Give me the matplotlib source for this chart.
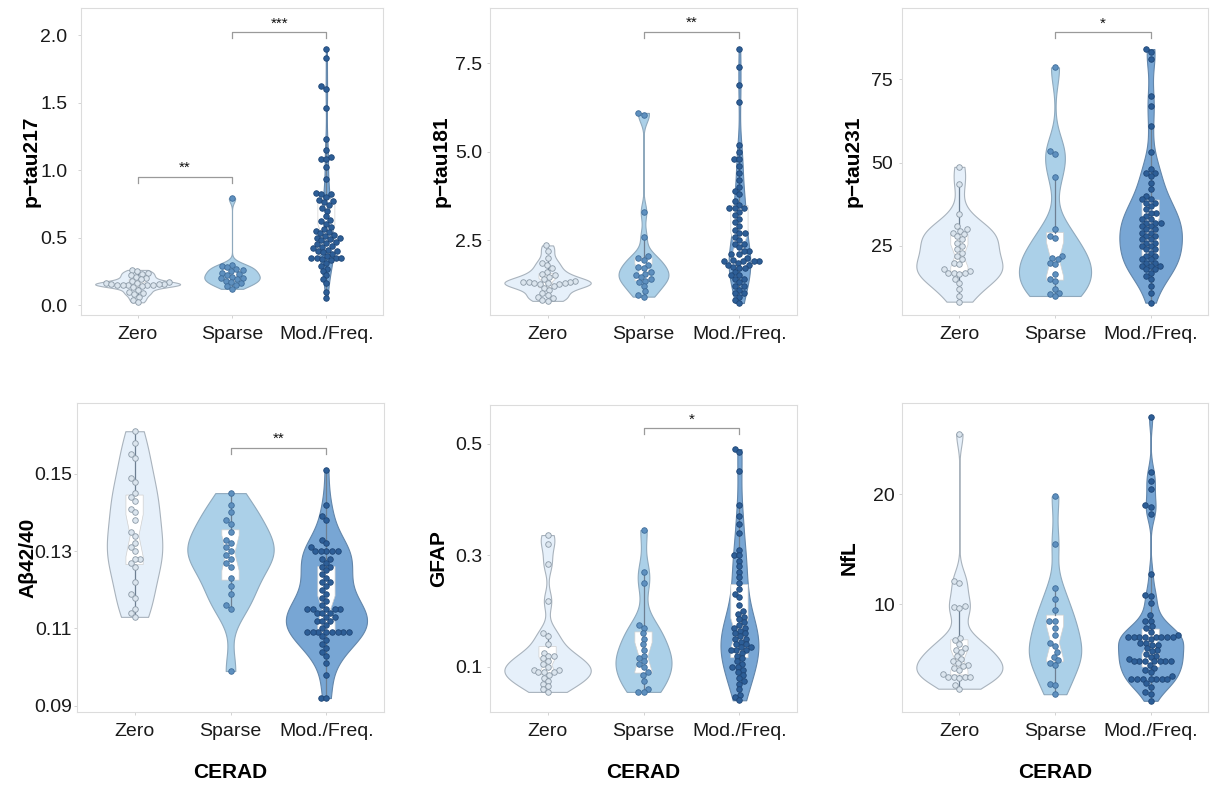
import numpy as np
import matplotlib
matplotlib.use('Agg')
import matplotlib.pyplot as plt

plt.rcParams['font.family'] = ['Liberation Sans', 'DejaVu Sans']

groups = ['Zero', 'Sparse', 'Mod./Freq.']

# ---------------- data ----------------
ptau217_zero = [0.26, 0.25, 0.24, 0.23, 0.22, 0.21, 0.20, 0.19, 0.18, 0.17, 0.16, 0.16, 0.155, 0.155, 0.155,
                0.15, 0.15, 0.15, 0.15, 0.15, 0.14, 0.13, 0.11, 0.10, 0.09, 0.08, 0.06, 0.04, 0.02]
ptau217_sparse = [0.79, 0.30, 0.29, 0.28, 0.27, 0.26, 0.25, 0.24, 0.23, 0.22, 0.21, 0.20, 0.20, 0.19, 0.18,
                  0.17, 0.16, 0.15, 0.14, 0.12]
ptau217_mod = [1.90, 1.83, 1.62, 1.60, 1.46, 1.23, 1.15, 1.10, 1.08, 1.08, 1.02, 0.93, 0.83, 0.82, 0.82, 0.80,
               0.78, 0.77, 0.76, 0.74, 0.72, 0.70, 0.66, 0.63, 0.62, 0.60, 0.58, 0.56, 0.55, 0.54, 0.53, 0.52,
               0.51, 0.50, 0.50, 0.49, 0.48, 0.47, 0.46, 0.45, 0.44, 0.43, 0.42, 0.41, 0.40, 0.40, 0.39, 0.38,
               0.36, 0.35, 0.35, 0.35, 0.35, 0.34, 0.33, 0.31, 0.29, 0.27, 0.25, 0.22, 0.19, 0.16, 0.10, 0.05]

ptau181_zero = [2.35, 2.2, 2.0, 1.85, 1.8, 1.7, 1.6, 1.55, 1.5, 1.45, 1.4, 1.35, 1.3, 1.3, 1.3, 1.28, 1.28,
                1.28, 1.25, 1.25, 1.2, 1.15, 1.1, 1.0, 0.95, 0.9, 0.85, 0.8, 0.78]
ptau181_sparse = [6.1, 6.05, 3.3, 2.6, 2.05, 2.0, 1.95, 1.8, 1.75, 1.7, 1.6, 1.55, 1.5, 1.45, 1.4, 1.35, 1.3,
                  1.2, 1.05, 0.95, 0.9]
ptau181_mod = [7.9, 7.4, 6.9, 6.4, 5.2, 5.0, 4.8, 4.8, 4.6, 4.4, 4.2, 4.0, 3.9, 3.8, 3.6, 3.5, 3.4, 3.4, 3.4,
               3.3, 3.2, 3.1, 3.0, 2.9, 2.8, 2.7, 2.7, 2.6, 2.5, 2.4, 2.4, 2.3, 2.2, 2.2, 2.1, 2.1, 2.0, 1.95,
               1.9, 1.9, 1.9, 1.9, 1.85, 1.8, 1.8, 1.75, 1.7, 1.7, 1.6, 1.5, 1.5, 1.4, 1.4, 1.3, 1.2, 1.2, 1.1,
               1.0, 1.0, 0.9, 0.8, 0.72]

ptau231_zero = [48.7, 43.5, 34.5, 31, 30, 29.5, 29, 28.5, 28, 27, 26, 25, 24, 23, 22, 21, 20, 19.5, 18, 17.5,
                17, 17, 17, 16.5, 15, 14, 12, 10, 8.3]
ptau231_sparse = [78.5, 53.4, 52.6, 45.7, 30, 28, 27.5, 22, 21.5, 21, 20, 19.5, 16.5, 15, 14.5, 12, 11, 10.5, 10]
ptau231_mod = [84, 83, 81, 70, 67, 61, 53, 48, 47, 47, 46, 44, 42, 40, 39, 39, 38, 38, 37, 36, 35, 35, 34, 33,
               33, 32, 32, 32, 31, 31, 30, 30, 29, 29, 28, 28, 27, 27, 26, 26, 25, 25, 24, 24, 23, 22, 22, 21,
               21, 20, 20, 19, 19, 19, 18, 18, 17, 16, 15, 13, 11, 8]

ab_zero = [0.161, 0.158, 0.155, 0.154, 0.149, 0.148, 0.145, 0.144, 0.143, 0.141, 0.140, 0.138, 0.135, 0.134,
           0.132, 0.131, 0.130, 0.128, 0.128, 0.127, 0.126, 0.122, 0.119, 0.118, 0.115, 0.114, 0.113]
ab_sparse = [0.145, 0.142, 0.140, 0.138, 0.137, 0.135, 0.133, 0.132, 0.131, 0.130, 0.129, 0.128, 0.127, 0.126,
             0.123, 0.121, 0.119, 0.116, 0.115, 0.099]
ab_mod = [0.151, 0.142, 0.139, 0.138, 0.133, 0.132, 0.131, 0.130, 0.130, 0.130, 0.130, 0.130, 0.128, 0.128,
          0.127, 0.126, 0.126, 0.125, 0.124, 0.123, 0.122, 0.122, 0.121, 0.120, 0.119, 0.118, 0.117, 0.116,
          0.115, 0.115, 0.115, 0.115, 0.115, 0.114, 0.114, 0.114, 0.113, 0.113, 0.112, 0.112, 0.112, 0.111,
          0.110, 0.109, 0.109, 0.109, 0.109, 0.109, 0.109, 0.109, 0.109, 0.108, 0.107, 0.106, 0.105, 0.104,
          0.103, 0.101, 0.098, 0.092, 0.092]

gfap_zero = [0.336, 0.32, 0.285, 0.218, 0.16, 0.155, 0.14, 0.125, 0.12, 0.12, 0.115, 0.11, 0.105, 0.10, 0.095,
             0.095, 0.09, 0.09, 0.09, 0.085, 0.08, 0.075, 0.07, 0.065, 0.06, 0.055]
gfap_sparse = [0.345, 0.27, 0.25, 0.175, 0.17, 0.16, 0.15, 0.14, 0.13, 0.12, 0.115, 0.11, 0.105, 0.10, 0.09,
               0.085, 0.075, 0.06, 0.055, 0.055]
gfap_mod = [0.49, 0.485, 0.45, 0.39, 0.37, 0.355, 0.34, 0.31, 0.30, 0.30, 0.29, 0.28, 0.27, 0.26, 0.25, 0.24,
            0.23, 0.225, 0.21, 0.20, 0.195, 0.19, 0.185, 0.18, 0.175, 0.17, 0.17, 0.165, 0.16, 0.16, 0.155,
            0.15, 0.15, 0.145, 0.14, 0.14, 0.135, 0.135, 0.13, 0.13, 0.13, 0.125, 0.12, 0.115, 0.11, 0.105,
            0.10, 0.10, 0.095, 0.09, 0.085, 0.08, 0.075, 0.07, 0.06, 0.05, 0.045, 0.04]

nfl_zero = [25.5, 12.1, 11.9, 9.8, 9.7, 9.6, 6.9, 6.7, 6.4, 6.0, 5.8, 5.6, 5.3, 5.0, 4.8, 4.6, 4.5, 4.4, 4.2,
            4.0, 3.6, 3.4, 3.4, 3.4, 3.4, 3.3, 2.6, 2.3]
nfl_sparse = [19.8, 15.5, 11.5, 10.5, 9.5, 8.5, 8.5, 7.8, 7.2, 6.5, 6.2, 5.6, 5.2, 4.9, 4.6, 4.5, 2.7, 2.6, 1.8]
nfl_mod = [27, 22, 21.2, 20.5, 19, 18.8, 18.2, 12.7, 10.8, 10.7, 10.1, 9, 8.5, 8.5, 8, 7.8, 7.5, 7.2, 7, 7, 7,
           7, 7, 7, 7, 7, 6.8, 6.5, 6.5, 6.3, 6.3, 6, 5.8, 5.7, 5.5, 5.3, 5.2, 5.0, 4.8, 4.8, 4.8, 4.8, 4.8,
           4.8, 4.8, 4.5, 4.2, 4.0, 3.8, 3.5, 3.2, 3.2, 3.2, 3.2, 3.2, 3.2, 3.2, 2.8, 2.5, 2.0, 1.8, 1.2]

panel_labels = ['p\u2212tau217', 'p\u2212tau181', 'p\u2212tau231', 'A\u03b242/40', 'GFAP', 'NfL']
panel_data = [
    [ptau217_zero, ptau217_sparse, ptau217_mod],
    [ptau181_zero, ptau181_sparse, ptau181_mod],
    [ptau231_zero, ptau231_sparse, ptau231_mod],
    [ab_zero, ab_sparse, ab_mod],
    [gfap_zero, gfap_sparse, gfap_mod],
    [nfl_zero, nfl_sparse, nfl_mod],
]
panel_ylim = [(-0.074, 2.2), (0.38, 9.07), (4.3, 96.3), (0.0884, 0.1683), (0.019, 0.569), (0.18, 28.3)]
panel_yticks = [
    ([0.0, 0.5, 1.0, 1.5, 2.0], ['0.0', '0.5', '1.0', '1.5', '2.0']),
    ([2.5, 5.0, 7.5], ['2.5', '5.0', '7.5']),
    ([25, 50, 75], ['25', '50', '75']),
    ([0.09, 0.11, 0.13, 0.15], ['0.09', '0.11', '0.13', '0.15']),
    ([0.1, 0.3, 0.5], ['0.1', '0.3', '0.5']),
    ([10, 20], ['10', '20']),
]
# significance brackets: (group_a, group_b, y, label)
panel_sig = [
    [(1, 2, 0.95, '**'), (2, 3, 2.02, '***')],
    [(2, 3, 8.4, '**')],
    [(2, 3, 89.0, '*')],
    [(2, 3, 0.1566, '**')],
    [(2, 3, 0.527, '*')],
    [],
]

# ---------------- styling ----------------
W, H = 1211, 785
violin_fill = ['#e6f0fa', '#abd0e8', '#78a6d4']
violin_edge = ['#a9b3bd', '#8fa9bd', '#6386aa']
pt_fill = ['#dbe5ee', '#5e90bf', '#2d5e97']
pt_edge = ['#8b99a6', '#3f6d9a', '#1f4676']
whisker_col = '#6d7f92'

# axes boxes in pixels: (left, top, right, bottom)
boxes = [(81, 8, 383, 315), (490, 8, 797, 315), (902, 8, 1208, 315),
         (77, 403, 384, 712), (490, 405, 797, 712), (902, 403, 1208, 712)]
ytick_pad = [7.6, 3.6, 4.2, 1.4, 3.0, 3.0]
ylabel_x = [-0.134, -0.129, -0.129, -0.129, -0.135, -0.142]


def kde_trim(vals, n=512):
    v = np.asarray(vals, float)
    sd = v.std(ddof=1)
    q75, q25 = np.percentile(v, [75, 25])
    lo = min(sd, (q75 - q25) / 1.34)
    if lo <= 0:
        lo = sd
    bw = 0.9 * lo * len(v) ** -0.2
    g = np.linspace(v.min(), v.max(), n)
    d = np.exp(-0.5 * ((g[:, None] - v[None, :]) / bw) ** 2).sum(1) / (len(v) * bw * np.sqrt(2 * np.pi))
    return g, d


def swarm(vals, ppx, ppy, diam):
    v = np.asarray(vals, float)
    order = np.argsort(v)
    ypx = v * ppy
    placed = []
    xs = np.zeros(len(v))
    for i in order:
        y = ypx[i]
        cands = [0.0]
        near = [(px, py) for (px, py) in placed if abs(py - y) < diam]
        for px, py in near:
            dx = np.sqrt(max(diam ** 2 - (py - y) ** 2, 0.0))
            cands += [px + dx, px - dx]
        cands = sorted(cands, key=lambda c: (abs(c), c))
        chosen = 0.0
        for c in cands:
            ok = True
            for px, py in near:
                if (px - c) ** 2 + (py - y) ** 2 < diam ** 2 - 1e-6:
                    ok = False
                    break
            if ok:
                chosen = c
                break
        placed.append((chosen, y))
        xs[i] = chosen / ppx
    return xs


fig = plt.figure(figsize=(W / 100, H / 100), dpi=100)
positions = [1, 2, 3]

for k in range(6):
    l, t, r, b = boxes[k]
    ax = fig.add_axes([l / W, 1 - b / H, (r - l) / W, (b - t) / H])
    ymin, ymax = panel_ylim[k]
    ax.set_xlim(0.4, 3.6)
    ax.set_ylim(ymin, ymax)
    ppx = (r - l) / 3.2
    ppy = (b - t) / (ymax - ymin)

    data = panel_data[k]
    kdes = [kde_trim(d) for d in data]
    maxd = max(d.max() for _, d in kdes)
    for j, (g, d) in enumerate(kdes):
        hw = 0.45 * d / maxd
        ax.fill_betweenx(g, positions[j] - hw, positions[j] + hw, facecolor=violin_fill[j],
                         edgecolor=violin_edge[j], linewidth=0.8, zorder=1)

    bp = ax.boxplot(data, positions=positions, widths=0.18, notch=True, patch_artist=True,
                    showfliers=False, showcaps=False, whis=1.5, manage_ticks=False, zorder=2)
    for patch in bp['boxes']:
        patch.set_facecolor('white')
        patch.set_edgecolor('#d0d0d0')
        patch.set_linewidth(0.5)
    for wl in bp['whiskers']:
        wl.set_color(whisker_col)
        wl.set_linewidth(0.9)
    for m in bp['medians']:
        m.set_color('white')
        m.set_linewidth(0)

    for j, d in enumerate(data):
        xo = swarm(d, ppx, ppy, 5.6)
        ax.scatter(positions[j] + xo, d, s=16, facecolor=pt_fill[j], edgecolor=pt_edge[j],
                   linewidth=0.6, zorder=3)

    for (a, c, y, lab) in panel_sig[k]:
        tick = 6 / ppy
        ax.plot([a, a, c, c], [y - tick, y, y, y - tick], color='#9a9a9a', linewidth=0.9, zorder=4)
        ax.text((a + c) / 2, y + 2 / ppy, lab, ha='center', va='bottom', fontsize=11, color='#111111')

    ax.set_xticks(positions)
    ax.set_xticklabels(groups)
    ax.set_yticks(panel_yticks[k][0])
    ax.set_yticklabels(panel_yticks[k][1])
    ax.tick_params(axis='x', length=2.2, width=0.6, color='#cccccc', pad=5.5, labelsize=14, labelcolor='#1a1a1a')
    ax.tick_params(axis='y', length=2.2, width=0.6, color='#cccccc', pad=ytick_pad[k], labelsize=14,
                   labelcolor='#1a1a1a')
    for sp in ax.spines.values():
        sp.set_color('#dcdcdc')
        sp.set_linewidth(0.8)
    ax.set_ylabel(panel_labels[k], fontsize=15, fontweight='bold')
    ax.yaxis.set_label_coords(ylabel_x[k], 0.5)
    if k >= 3:
        ax.set_xlabel('CERAD', fontsize=15, fontweight='bold')
        ax.xaxis.set_label_coords(0.5, -0.165)

fig.savefig('out.png', dpi=100, facecolor='white')
